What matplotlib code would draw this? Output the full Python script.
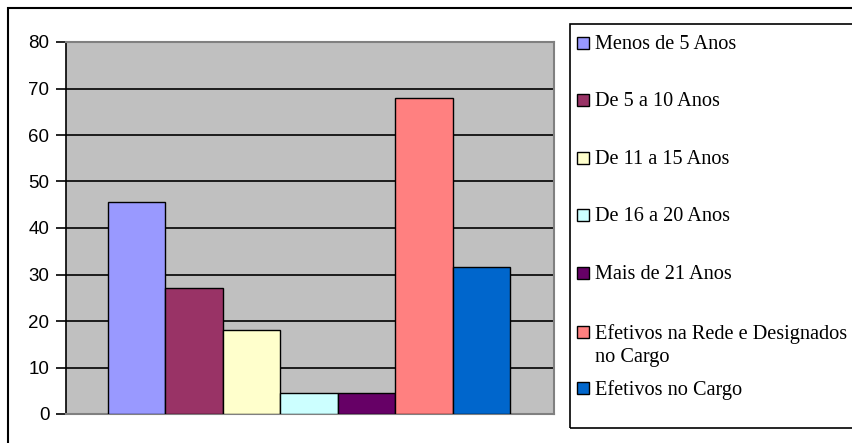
import numpy as np
import matplotlib
matplotlib.use("Agg")
import matplotlib.pyplot as plt
from matplotlib.patches import Rectangle

# Data
labels = ["Menos de 5 Anos", "De 5 a 10 Anos", "De 11 a 15 Anos", "De 16 a 20 Anos",
          "Mais de 21 Anos", "Efetivos na Rede e Designados\nno Cargo", "Efetivos no Cargo"]
values = [45.5, 27.0, 18.0, 4.5, 4.5, 68.0, 31.7]
colors = ["#9999FF", "#993366", "#FFFFCC", "#CCFFFF", "#660066", "#FF8080", "#0066CC"]
yticks = [0, 10, 20, 30, 40, 50, 60, 70, 80]

W, H = 852, 443
fig = plt.figure(figsize=(W / 100, H / 100), dpi=100)

def fx(x):
    return x / W

def fy(y):
    return 1 - y / H

# outer chart border (runs off the right and bottom edges)
fig.patches.append(Rectangle((fx(8), fy(460)), fx(900) - fx(8), fy(8) - fy(460),
                             transform=fig.transFigure, fill=False, ec="black", lw=1.5))

# plot area
ax = fig.add_axes([fx(66), fy(414), fx(554) - fx(66), fy(42) - fy(414)])
ax.set_facecolor("#C0C0C0")
ax.set_axisbelow(True)
ax.yaxis.grid(True, color="black", lw=1.2)

x = np.arange(len(values))
ax.bar(x, values, width=1.0, color=colors, edgecolor="black", linewidth=1.0, zorder=3)

ax.set_xlim(-0.5 - 0.73, len(values) - 0.5 + 0.76)
ax.set_ylim(0, 80)
ax.set_yticks(yticks)
ax.set_xticks([])
ax.tick_params(axis="y", direction="out", length=7, width=1.2, pad=5, labelsize=13.5)
for t in ax.get_yticklabels():
    t.set_family("Liberation Sans")

for side in ["top", "right", "bottom"]:
    ax.spines[side].set_color("#808080")
    ax.spines[side].set_linewidth(1.5)
ax.spines["left"].set_color("black")
ax.spines["left"].set_linewidth(1.2)

# legend box
fig.patches.append(Rectangle((fx(570), fy(428)), fx(900) - fx(570), fy(24) - fy(428),
                             transform=fig.transFigure, fill=False, ec="black", lw=1.2))
row_y = [43, 100, 158, 215, 273, 332, 388]
for lab, col, yy in zip(labels, colors, row_y):
    fig.patches.append(Rectangle((fx(577), fy(yy + 6)), fx(589) - fx(577), fy(yy - 6) - fy(yy + 6),
                                 transform=fig.transFigure, fc=col, ec="black", lw=1.0))
    fig.text(fx(595), fy(yy - 8), lab, family="Liberation Serif", fontsize=14.6,
             va="top", ha="left", linespacing=1.3)

fig.savefig("out.png", dpi=100)
